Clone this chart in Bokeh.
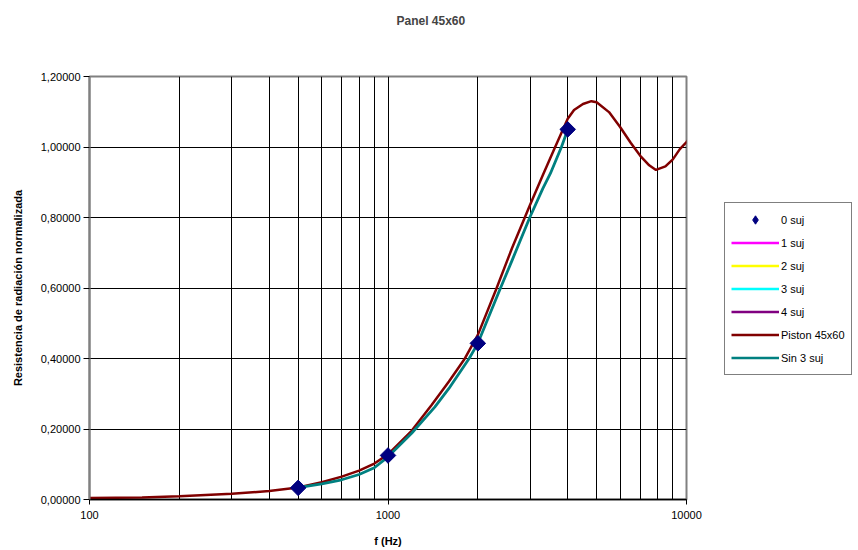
from bokeh.plotting import figure
from bokeh.layouts import row
from bokeh.models import (FixedTicker, Legend, LegendItem, Range1d, LogAxis)
from bokeh.embed import file_html
from bokeh.resources import INLINE
import math

# ---- data ----
freq_piston = [100, 150, 200, 300, 400, 500, 600, 700, 800, 900, 1000, 1200, 1400,
               1600, 1800, 2000, 2300, 2600, 3000, 3300, 3600, 4000, 4200, 4500,
               4800, 5000, 5500, 6000, 6500, 7000, 7500, 7900, 8500, 9000, 9500,
               10000, 10500]
r_piston = [0.004, 0.006, 0.009, 0.016, 0.024, 0.034, 0.049, 0.065, 0.082, 0.102,
            0.128, 0.195, 0.268, 0.335, 0.397, 0.467, 0.595, 0.712, 0.838, 0.920,
            0.993, 1.080, 1.105, 1.122, 1.130, 1.127, 1.099, 1.056, 1.012, 0.975,
            0.948, 0.935, 0.945, 0.965, 0.994, 1.014, 1.037]

freq_sin3 = [500, 600, 700, 800, 900, 1000, 1200, 1434, 1600, 1870, 2000, 2382,
             2600, 2985, 3300, 3500, 3811, 4000]
r_sin3 = [0.034, 0.0445, 0.056, 0.071, 0.090, 0.121, 0.188, 0.262, 0.315, 0.400,
          0.443, 0.600, 0.677, 0.800, 0.882, 0.925, 1.000, 1.049]

freq_0suj = [500, 1000, 2000, 4000]
r_0suj = [0.033, 0.125, 0.443, 1.050]

series_names = ["0 suj", "1 suj", "2 suj", "3 suj", "4 suj", "Piston 45x60", "Sin 3 suj"]
series_colors = ["#000080", "#FF00FF", "#FFFF00", "#00FFFF", "#800080", "#800000", "#008080"]

x_ticks = [100, 1000, 10000]
x_tick_labels = ["100", "1000", "10000"]
x_minor = [200, 300, 400, 500, 600, 700, 800, 900,
           2000, 3000, 4000, 5000, 6000, 7000, 8000, 9000]
y_ticks = [0.0, 0.2, 0.4, 0.6, 0.8, 1.0, 1.2]
y_tick_labels = ["0,00000", "0,20000", "0,40000", "0,60000", "0,80000", "1,00000", "1,20000"]

FONT = "Liberation Sans"
NAN = float("nan")

# ---------------- main chart ----------------
p = figure(width=704, height=550, x_axis_type="log",
           x_range=Range1d(100, 10000), y_range=Range1d(0, 1.2),
           output_backend="svg", toolbar_location=None,
           min_border_left=89, min_border_right=18,
           min_border_top=76, min_border_bottom=51,
           title="Panel 45x60")

p.background_fill_color = "white"
p.border_fill_color = "white"
p.outline_line_color = "#808080"
p.outline_line_width = 2

p.title.text_font = FONT
p.title.text_font_size = "12px"
p.title.text_font_style = "bold"
p.title.align = "left"
p.title.offset = 307
p.title.vertical_align = "bottom"
p.title.standoff = 0

xa = p.xaxis[0]
ya = p.yaxis[0]

# invisible spacer axis between the frame and the title
spacer = LogAxis(ticker=FixedTicker(ticks=[x_ticks[1]]), axis_line_color=None,
                 major_tick_line_color=None, minor_tick_line_color=None,
                 major_tick_in=0, major_tick_out=49, major_label_standoff=0,
                 major_label_overrides={x_ticks[1]: ""},
                 major_label_text_color=None, major_label_text_font_size="1px")
p.add_layout(spacer, "above")

xa.ticker = FixedTicker(ticks=x_ticks, minor_ticks=x_minor)
xa.major_label_overrides = {t: l for t, l in zip(x_ticks, x_tick_labels)}
xa.axis_label = "f (Hz)"
ya.ticker = FixedTicker(ticks=y_ticks)
ya.major_label_overrides = {t: l for t, l in zip(y_ticks, y_tick_labels)}
ya.axis_label = "Resistencia de radiación normalizada"

for ax in (xa, ya):
    ax.major_label_text_font = FONT
    ax.major_label_text_font_size = "11px"
    ax.major_label_text_color = "black"
    ax.axis_label_text_font = FONT
    ax.axis_label_text_font_size = "11px"
    ax.axis_label_text_font_style = "bold"
    ax.axis_label_text_color = "black"
    ax.major_tick_in = 0
    ax.minor_tick_line_color = None
    ax.major_tick_line_color = "black"

xa.axis_line_color = "black"
xa.axis_line_width = 1.5
xa.major_tick_out = 5
xa.major_label_standoff = 6
xa.axis_label_standoff = 13

ya.axis_line_color = "#808080"
ya.axis_line_width = 2
ya.major_tick_out = 6
ya.major_label_standoff = 3
ya.axis_label_standoff = 14

p.xgrid.grid_line_color = "black"
p.xgrid.grid_line_width = 1
p.xgrid.minor_grid_line_color = "black"
p.xgrid.minor_grid_line_width = 1
p.ygrid.grid_line_color = "black"
p.ygrid.grid_line_width = 1

p.line(freq_piston, r_piston, line_color=series_colors[5], line_width=2.5)
p.line(freq_sin3, r_sin3, line_color=series_colors[6], line_width=2.8)
p.scatter(freq_0suj, r_0suj, marker="square", size=11, angle=math.pi / 4,
          fill_color=series_colors[0], line_color=series_colors[0])

# ---------------- legend panel ----------------
pl = figure(width=150, height=550, x_range=Range1d(0, 1), y_range=Range1d(0, 1),
            output_backend="svg", toolbar_location=None,
            x_axis_location=None, y_axis_location=None,
            min_border_left=0, min_border_right=0,
            min_border_top=0, min_border_bottom=0)
pl.outline_line_color = None
pl.xgrid.visible = False
pl.ygrid.visible = False
pl.background_fill_color = "white"
pl.border_fill_color = "white"

leg_renderers = [pl.scatter(x=[NAN], y=[NAN], marker="diamond", size=11,
                            fill_color=series_colors[0], line_color=series_colors[0])]
for col in series_colors[1:]:
    leg_renderers.append(pl.line(x=[NAN], y=[NAN], line_color=col, line_width=2.5))

items = [LegendItem(label=name, renderers=[r]) for name, r in zip(series_names, leg_renderers)]

legend = Legend(items=items, location=(20, 124))
legend.label_text_font = FONT
legend.label_text_font_size = "11px"
legend.label_text_color = "black"
legend.glyph_width = 48
legend.glyph_height = 21
legend.label_height = 21
legend.label_standoff = 2
legend.spacing = 2
legend.padding = 6
legend.margin = 0
legend.border_line_color = "black"
legend.border_line_width = 1
legend.background_fill_color = "white"
legend.background_fill_alpha = 1
pl.add_layout(legend, "center")

layout = row(p, pl)

open("out.html", "w").write(file_html(layout, INLINE))
